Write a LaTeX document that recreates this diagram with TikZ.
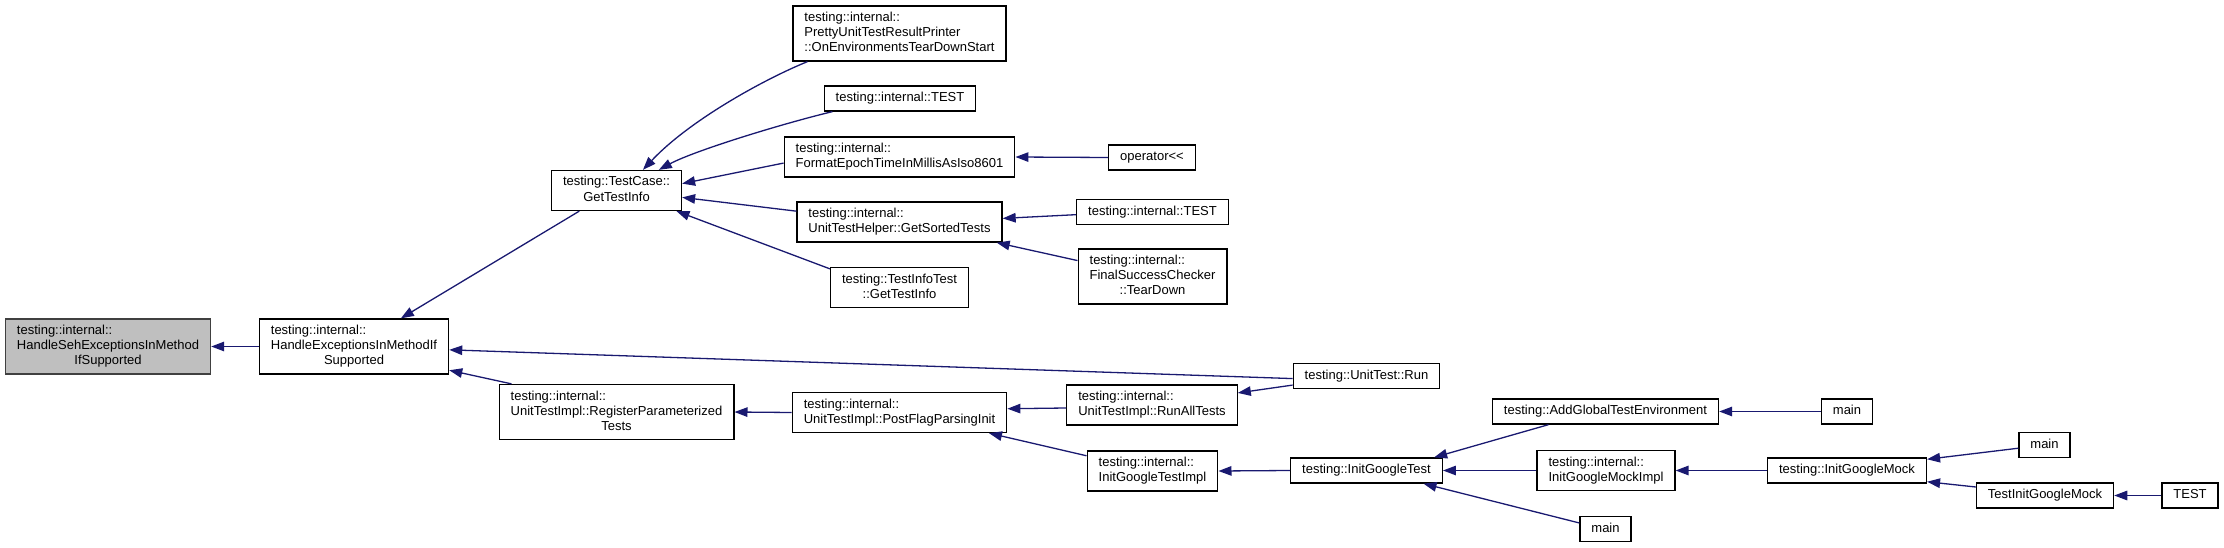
\documentclass[tikz,border=0pt]{standalone}
\usepackage{fontspec}
\usepackage{tikz}
\usetikzlibrary{arrows.meta}
\newfontfamily\dxfont{Liberation Sans}
\definecolor{dxedge}{HTML}{191970}
\definecolor{dxroot}{HTML}{BFBFBF}
\newcommand{\fnlines}[1]{\begin{tabular}{@{}l@{}}#1\end{tabular}}
\newcommand{\lastc}[1]{\multicolumn{1}{@{}c@{}}{#1}}

\begin{document}
\begin{tikzpicture}[x=1pt,y=-1pt,
  fn/.style={draw=black,line width=1.3pt,inner xsep=11.5pt,inner ysep=5pt,
    font=\dxfont\fontsize{13}{15}\selectfont},
  rootfn/.style={fn,fill=dxroot,draw=black!75},
  edge/.style={draw=dxedge,line width=1.3pt,
    -{Triangle[length=13pt,width=9.5pt,fill=dxedge]}}]
\useasboundingbox (0,0) rectangle (2224,548);

\node[rootfn] (root) at (108,346.5) {\fnlines{testing::internal::\\HandleSehExceptionsInMethod\\\lastc{IfSupported}}};
\node[fn] (hexc) at (354,346.5) {\fnlines{testing::internal::\\HandleExceptionsInMethodIf\\\lastc{Supported}}};

\node[fn] (gti) at (616.5,190.5) {\fnlines{testing::TestCase::\\\lastc{GetTestInfo}}};
\node[fn] (reg) at (616.5,412) {\fnlines{testing::internal::\\UnitTestImpl::RegisterParameterized\\\lastc{Tests}}};

\node[fn] (pretty) at (899.5,33.5) {\fnlines{testing::internal::\\PrettyUnitTestResultPrinter\\::OnEnvironmentsTearDownStart}};
\node[fn] (itesta) at (900,98.5) {\fnlines{testing::internal::TEST}};
\node[fn] (fmt) at (899.5,157) {\fnlines{testing::internal::\\FormatEpochTimeInMillisAsIso8601}};
\node[fn] (sorted) at (899.5,222) {\fnlines{testing::internal::\\UnitTestHelper::GetSortedTests}};
\node[fn] (tit) at (899.5,287.5) {\fnlines{testing::TestInfoTest\\\lastc{::GetTestInfo}}};
\node[fn] (pfpi) at (899.5,412.5) {\fnlines{testing::internal::\\UnitTestImpl::PostFlagParsingInit}};

\node[fn] (op) at (1152,157.5) {\fnlines{operator<<}};
\node[fn] (itestb) at (1152.5,212) {\fnlines{testing::internal::TEST}};
\node[fn] (fsc) at (1152.5,276.5) {\fnlines{testing::internal::\\FinalSuccessChecker\\\lastc{::TearDown}}};
\node[fn] (rat) at (1152,405) {\fnlines{testing::internal::\\UnitTestImpl::RunAllTests}};
\node[fn] (igti) at (1152.5,471) {\fnlines{testing::internal::\\InitGoogleTestImpl}};

\node[fn] (run) at (1366.5,376) {\fnlines{testing::UnitTest::Run}};
\node[fn] (igt) at (1366.5,470.5) {\fnlines{testing::InitGoogleTest}};

\node[fn] (agte) at (1605.5,411.5) {\fnlines{testing::AddGlobalTestEnvironment}};
\node[fn] (igmi) at (1606,470.5) {\fnlines{testing::internal::\\InitGoogleMockImpl}};
\node[fn] (maina) at (1605.5,529) {\fnlines{main}};

\node[fn] (mainb) at (1847,411.5) {\fnlines{main}};
\node[fn] (igm) at (1847,470.5) {\fnlines{testing::InitGoogleMock}};

\node[fn] (mainc) at (2044.5,445) {\fnlines{main}};
\node[fn] (tigm) at (2045,495.5) {\fnlines{TestInitGoogleMock}};
\node[fn] (testc) at (2190,495.5) {\fnlines{TEST}};

\draw[edge] (hexc.west) -- (root.east);
\draw[edge] (gti.209) -- (hexc.31);
\draw[edge] (run.182) -- (hexc.-2);
\draw[edge] (reg.165) -- (hexc.-14);
\draw[edge] (pfpi.west) -- (reg.east);

\draw[edge] (pretty.197) .. controls +(-42,17) and +(47,-50) .. (gti.38);
\draw[edge] (itesta.191) .. controls +(-50,12) and +(35,-19) .. (gti.26);
\draw[edge] (fmt.183) -- (gti.6);
\draw[edge] (sorted.174) -- (gti.-6);
\draw[edge] (tit.165) -- (gti.-19);
\draw[edge] (op.west) -- (fmt.east);
\draw[edge] (itestb.182) -- (sorted.2);
\draw[edge] (fsc.168) -- (sorted.-12);

\draw[edge] (rat.182) -- (pfpi.2);
\draw[edge] (igti.167) -- (pfpi.-13);
\draw[edge] (run.187) -- (rat.8);
\draw[edge] (igt.west) -- (igti.east);

\draw[edge] (agte.193) -- (igt.11);
\draw[edge] (igmi.west) -- (igt.east);
\draw[edge] (maina.167) -- (igt.-13);
\draw[edge] (mainb.west) -- (agte.east);
\draw[edge] (igm.west) -- (igmi.east);
\draw[edge] (mainc.187) -- (igm.8);
\draw[edge] (tigm.173) -- (igm.-8);
\draw[edge] (testc.west) -- (tigm.east);
\end{tikzpicture}
\end{document}
